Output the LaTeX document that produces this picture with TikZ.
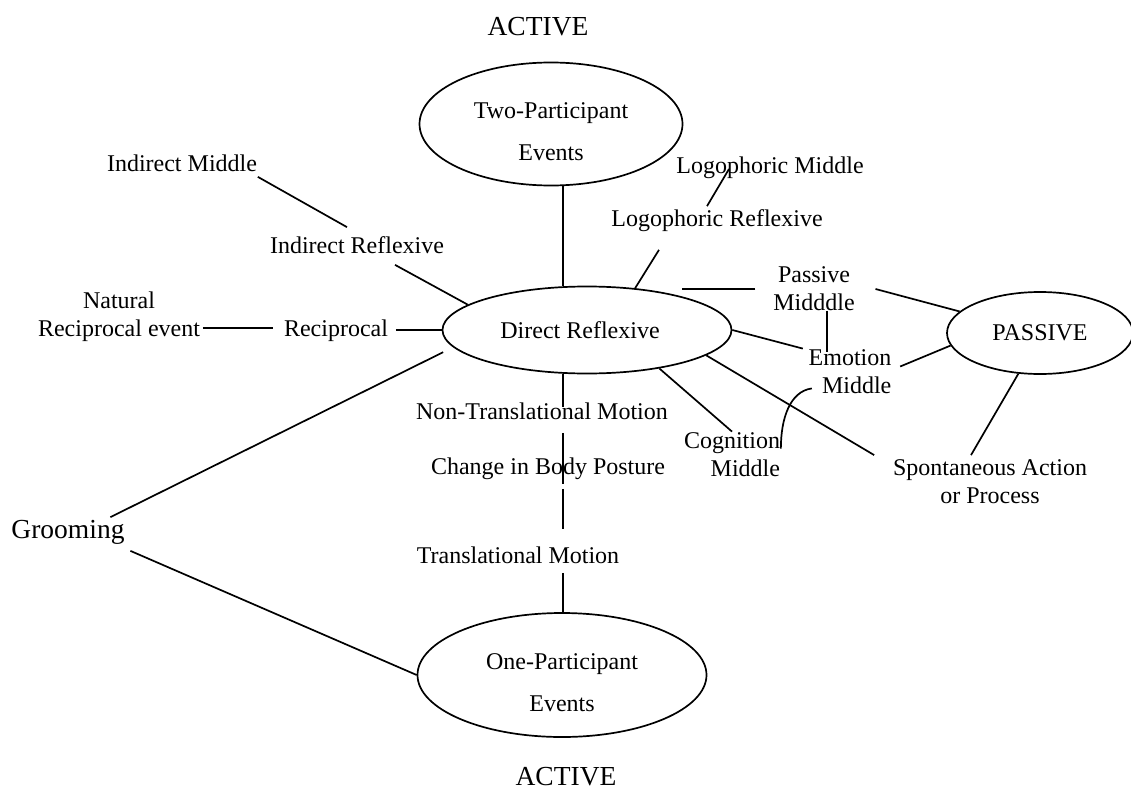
\documentclass[tikz,border=0pt]{standalone}
\usepackage{fontspec}
\setmainfont{Liberation Serif}
\usetikzlibrary{shapes.geometric}
\newcommand{\topgap}{\rule{0pt}{31pt}}

\begin{document}
\begin{tikzpicture}[x=1pt, y=-1pt, line width=1.7pt,
		lbl/.style={inner sep=0pt, text height=17pt, text depth=5pt, font=\fontsize{24}{28}\selectfont},
		lbltwo/.style={inner sep=0pt, align=center, font=\fontsize{24}{28}\selectfont},
		big/.style={inner sep=0pt, text height=20pt, text depth=2pt, font=\fontsize{27.5}{32}\selectfont},
		blob/.style={draw, ellipse, inner sep=0pt, align=center, font=\fontsize{24}{28}\selectfont}]
		\useasboundingbox (0, 0) rectangle (1131, 789);
		\coordinate(axis)at(563, 0);
		\node[big](activetop)at(538, 27){ACTIVE};
		\node[big](activebot)at(566, 776){ACTIVE};
		\node[blob, minimum width=263pt, minimum height=123pt](two)at(551, 124){\topgap Two-Participant\\[14pt]Events};
		\node[blob, minimum width=289pt, minimum height=87pt](direct)at(587, 330){Direct Reflexive\hspace*{14pt}};
		\node[blob, minimum width=186pt, minimum height=82pt](passive)at(1040, 333){PASSIVE};
		\node[blob, minimum width=289pt, minimum height=124pt](one)at(562, 675){\topgap One-Participant\\[14pt]Events};
		\node[lbl](indmid)at(182, 165){Indirect Middle};
		\node[lbl](indref)at(357, 247){Indirect Reflexive};
		\node[lbltwo](natural)at(119, 317){Natural\\Reciprocal event};
		\node[lbl](recip)at(336, 330){Reciprocal};
		\node[big](groom)at(68, 529){Grooming};
		\node[lbl](logmid)at(770, 167){Logophoric Middle};
		\node[lbl](logref)at(717, 220){Logophoric Reflexive};
		\node[lbltwo](passmid)at(814, 289){Passive\\Midddle};
		\node[lbltwo, align=right](emomid)at(850, 371.5){Emotion\\Middle};
		\node[lbltwo, align=right](cogmid)at(732, 454.5){Cognition\\Middle};
		\node[lbltwo](spont)at(990, 482){Spontaneous Action\\or Process};
		\node[lbl](nontrans)at(542, 413){Non-Translational Motion};
		\node[lbl](change)at(548, 468){Change in Body Posture};
		\node[lbl](trans)at(518, 557){Translational Motion};
		\draw(indmid.south east)--([xshift=-10pt, yshift=8pt]indref.north);
		\draw([xshift=38pt, yshift=-6pt]indref.south)--(direct.168);
		\draw([xshift=2pt, yshift=-11pt]natural.east)--([xshift=-10pt, yshift=-11pt]natural.east -| recip.west);
		\draw([xshift=7pt]recip.east)--(direct.west);
		\draw([xshift=-15pt]groom.north east)--([xshift=-18pt]direct.190);
		\draw([xshift=5pt, yshift=-10pt]groom.south east)--(one.west);
		\draw([xshift=-41pt, yshift=-2pt]logmid.center)--([xshift=-10pt, yshift=2pt]logref.north);
		\draw([xshift=-58pt, yshift=-18pt]logref.south)--(direct.41);
		\draw([xshift=-17pt]passmid.west)--([xshift=-50pt]passmid.west -| direct.east);
		\draw([xshift=20pt]passmid.east)--(passive.165);
		\draw([xshift=13pt, yshift=1pt]passmid.south)--([xshift=-23pt, yshift=-3pt]emomid.north);
		\draw(direct.east)--([xshift=-5pt]emomid.north west);
		\draw([xshift=8pt, yshift=5pt]emomid.east)--(passive.188);
		\draw([xshift=4pt, yshift=6pt]emomid.south west) .. controls +(-22, 3) and +(0, -30) .. ([yshift=-17pt]cogmid.north east);
		\draw(direct.-28)--(cogmid.north);
		\draw(direct.-12)--([xshift=-18pt, yshift=4pt]spont.north west);
		\draw(passive.242)--([xshift=-19pt, yshift=4pt]spont.north);
		\draw(two.south -| axis)--(direct.north -| axis);
		\draw(direct.south -| axis)--([yshift=-6pt]nontrans.north -| axis);
		\draw([yshift=-8pt]nontrans.south -| axis)--([yshift=-4pt]change.south -| axis);
		\draw([yshift=-9pt]change.south -| axis)--([yshift=16pt]trans.north -| axis);
		\draw([yshift=-4pt]trans.south -| axis)--(one.north -| axis);
	\end{tikzpicture}
\end{document}
